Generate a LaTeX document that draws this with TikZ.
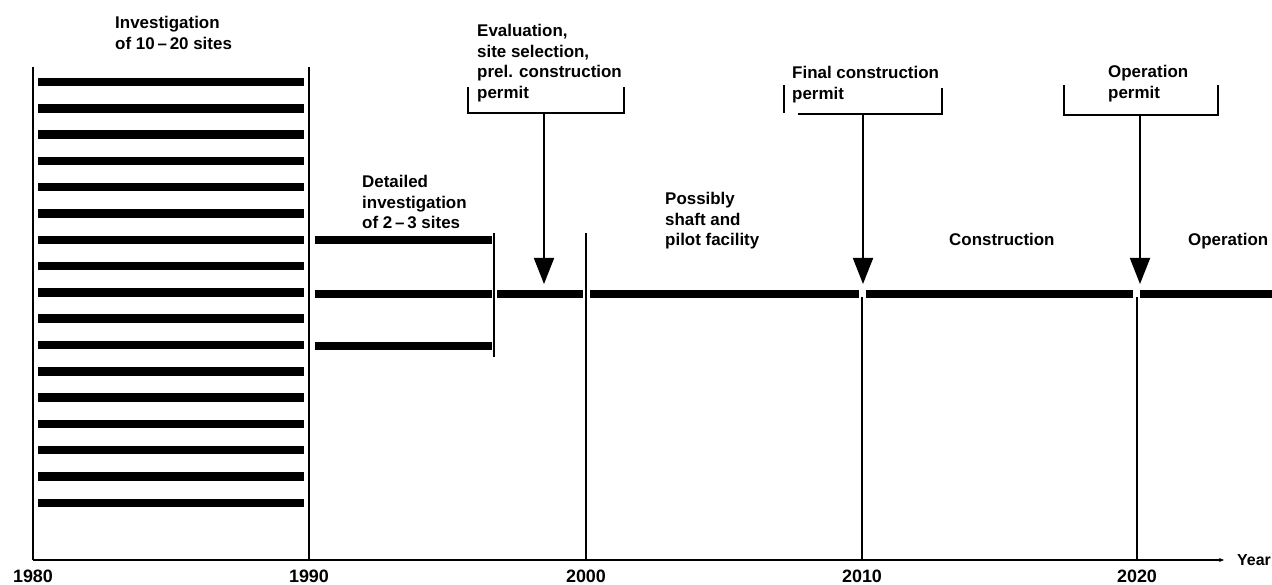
\documentclass[tikz,border=0pt]{standalone}
\usepackage{fontspec}
\setmainfont{Liberation Sans}
\usetikzlibrary{arrows.meta}
\begin{document}
\begin{tikzpicture}[x=1bp,y=-1bp,
  lbl/.style={font=\fontsize{17}{20.8}\selectfont\bfseries, align=left, inner sep=0pt, anchor=north west},
  yearlbl/.style={font=\fontsize{18}{20}\selectfont\bfseries, inner sep=0pt, anchor=base},
  bar/.style={line width=8.5bp, black},
  vline/.style={line width=1.8bp, black},
  brk/.style={line width=1.5bp, black},
  axisline/.style={line width=1.5bp, black},
  arr/.style={line width=1.8bp, black, -{Triangle[length=26bp,width=20bp]}}]
\useasboundingbox (0,0) rectangle (1272,585);

% axis
\coordinate (ax0) at (33,560);
\coordinate (ax1) at (1224,560);
\draw[axisline, -{Stealth[length=5bp,width=4bp]}] (ax0) -- (ax1);
\node[font=\fontsize{16}{18}\selectfont\bfseries, inner sep=0pt, anchor=base west] (year) at (1237,565) {Year};

% year labels
\node[yearlbl] (y1980) at (33,582.5) {1980};
\node[yearlbl] (y1990) at (309,582.5) {1990};
\node[yearlbl] (y2000) at (586,582.5) {2000};
\node[yearlbl] (y2010) at (862,582.5) {2010};
\node[yearlbl] (y2020) at (1137,582.5) {2020};

% vertical lines
\coordinate (v80t) at (33,67);   \coordinate (v80b) at (33,560);
\coordinate (v90t) at (309,67);  \coordinate (v90b) at (309,560);
\coordinate (v00t) at (586,233); \coordinate (v00b) at (586,560);
\coordinate (v10t) at (862,297); \coordinate (v10b) at (862,560);
\coordinate (v20t) at (1137,297);\coordinate (v20b) at (1137,560);
\draw[vline] (v80t) -- (v80b);
\draw[vline] (v90t) -- (v90b);
\draw[vline] (v00t) -- (v00b);
\draw[vline] (v10t) -- (v10b);
\draw[vline] (v20t) -- (v20b);

% 17 site bars 1980-1990
\foreach \i in {0,...,16} {
  \draw[bar] (38,{82+26.3*\i}) -- (304,{82+26.3*\i});
}

% detailed investigation bars
\draw[bar] (315,240) -- (492,240);
\draw[bar] (315,294) -- (492,294);
\draw[bar] (315,346) -- (492,346);
\coordinate (dvt) at (494,233); \coordinate (dvb) at (494,357);
\draw[vline] (dvt) -- (dvb);

% main line
\draw[bar] (497,294) -- (583,294);
\draw[bar] (590,294) -- (859,294);
\draw[bar] (866,294) -- (1133,294);
\draw[bar] (1140,294) -- (1272,294);

% brackets
\draw[brk] (468,87) -- (468,113) -- (624,113) -- (624,87);
\draw[brk] (784,85) -- (784,113);
\draw[brk] (798,114) -- (942,114) -- (942,88);
\draw[brk] (1064,85) -- (1064,115) -- (1218,115) -- (1218,85);

% arrows
\coordinate (ea) at (544,113); \coordinate (eb) at (544,284);
\coordinate (fa) at (863,114); \coordinate (fb) at (863,284);
\coordinate (oa) at (1140,115); \coordinate (ob) at (1140,284);
\draw[arr] (ea) -- (eb);
\draw[arr] (fa) -- (fb);
\draw[arr] (oa) -- (ob);

% labels
\node[lbl] (inv) at (115,16) {Investigation\\of 10\,--\,20 sites};
\node[lbl] (evl) at (477,24) {Evaluation,\\site selection,\\prel. construction\\permit};
\node[lbl] (fin) at (792,66) {Final construction\\permit};
\node[lbl] (opp) at (1108,65) {Operation\\permit};
\node[lbl] (det) at (362,175) {Detailed\\investigation\\of 2\,--\,3 sites};
\node[lbl] (pos) at (665,192) {Possibly\\shaft and\\pilot facility};
\node[lbl] (con) at (949,233) {Construction};
\node[lbl] (ope) at (1188,233) {Operation};
\end{tikzpicture}
\end{document}
